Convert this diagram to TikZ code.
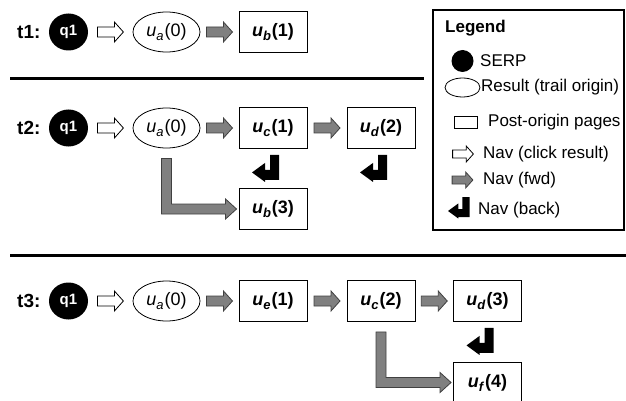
\documentclass[tikz,border=0pt]{standalone}
\usepackage{fontspec}
\setmainfont{Liberation Sans}
\usetikzlibrary{shapes.geometric,calc}
\tikzset{
 serp/.style={ellipse, fill=black, minimum width=39pt, minimum height=37pt, inner sep=0pt, text=white, font=\fontsize{15}{15}\selectfont\bfseries},
 origin/.style={ellipse, draw=black, line width=0.8pt, minimum width=67pt, minimum height=40pt, inner sep=0pt, font=\fontsize{18}{18}\selectfont},
 page/.style={rectangle, draw=black, line width=0.9pt, minimum width=68pt, minimum height=41pt, inner sep=0pt, font=\fontsize{18}{18}\selectfont\bfseries},
 rowlab/.style={anchor=west, inner sep=0pt, font=\fontsize{19}{19}\selectfont\bfseries},
 legtext/.style={anchor=west, inner sep=0pt, font=\fontsize{17}{17}\selectfont},
 clickarr/.style={draw=black, fill=white, line width=0.8pt, line join=miter},
 fwdarr/.style={draw=black!75, fill=black!50, line width=0.8pt, line join=miter},
 backarr/.style={fill=black},
 sepline/.style={line width=3pt},
}
\newcommand{\usub}[2]{\textit{u}\raisebox{-0.22em}{\fontsize{13}{13}\selectfont\textit{#1}}\kern1pt(#2)}
\newcommand{\arrshape}{(-13,-5) -- (4,-5) -- (4,-10) -- (13,0) -- (4,10) -- (4,5) -- (-13,5) -- cycle}
\newcommand{\harrow}[3]{\draw[#1, shift={($(#2.east)!0.5!(#3.west)$)}] \arrshape;}
\newcommand{\backshape}{(18,0) -- (27,0) -- (27,25) -- (13,25) -- (13,27) -- (0,17.5) -- (13,8) -- (13,15) -- (18,15) -- cycle}
\newcommand{\backarrow}[1]{\fill[backarr, shift={($(#1.south)+(-21,6)$)}] \backshape;}
\newcommand{\larrow}[2]{%
 \coordinate (ls) at ($(#1.south)+(0,10)$);
 \coordinate (lt) at ($(#2.west)+(-2,0)$);
 \coordinate (lc) at (ls |- lt);
 \draw[fwdarr] ($(ls)+(-5,0)$) -- ($(ls)+(5,0)$) -- ($(lc)+(5,-5)$) -- ($(lt)+(-11,-5)$) -- ($(lt)+(-11,-10)$) -- (lt) -- ($(lt)+(-11,10)$) -- ($(lt)+(-11,5)$) -- ($(lc)+(-5,5)$) -- cycle;}
\begin{document}
\begin{tikzpicture}[x=1pt,y=-1pt]
\useasboundingbox (0,0) rectangle (626,401);
% row t1
\node[rowlab] (t1) at (17,32) {t1:};
\node[serp] (q1a) at (68.5,32) {q1};
\node[origin] (ua1) at (166.5,32) {\usub{a}{0}};
\node[page] (ub1) at (273,32) {\usub{b}{1}};
\harrow{clickarr}{q1a}{ua1}
\harrow{fwdarr}{ua1}{ub1}
\draw[sepline] (10,79) coordinate (l1a) -- (424,79) coordinate (l1b);
% row t2
\node[rowlab] (t2) at (17,128) {t2:};
\node[serp] (q1b) at (68.5,128) {q1};
\node[origin] (ua2) at (166.5,128) {\usub{a}{0}};
\node[page] (uc2) at (273,128) {\usub{c}{1}};
\node[page] (ud2) at (381,128) {\usub{d}{2}};
\node[page] (ub2) at (273,209) {\usub{b}{3}};
\harrow{clickarr}{q1b}{ua2}
\harrow{fwdarr}{ua2}{uc2}
\harrow{fwdarr}{uc2}{ud2}
\backarrow{uc2}
\backarrow{ud2}
\larrow{ua2}{ub2}
\draw[sepline] (10,255) coordinate (l2a) -- (626,255) coordinate (l2b);
% row t3
\node[rowlab] (t3) at (17,301) {t3:};
\node[serp] (q1c) at (68.5,301) {q1};
\node[origin] (ua3) at (166.5,301) {\usub{a}{0}};
\node[page] (ue3) at (273,301) {\usub{e}{1}};
\node[page] (uc3) at (381,301) {\usub{c}{2}};
\node[page] (ud3) at (487.5,301) {\usub{d}{3}};
\node[page] (uf3) at (487.5,382.5) {\usub{f}{4}};
\harrow{clickarr}{q1c}{ua3}
\harrow{fwdarr}{ua3}{ue3}
\harrow{fwdarr}{ue3}{uc3}
\harrow{fwdarr}{uc3}{ud3}
\backarrow{ud3}
\larrow{uc3}{uf3}
% legend
\node[draw, line width=2.2pt, minimum width=191pt, minimum height=220pt, inner sep=0pt] (legend) at (528.5,120) {};
\node[legtext, font=\fontsize{17}{17}\selectfont\bfseries] (legt) at (445,28) {Legend};
\node[serp, minimum width=22pt, minimum height=22pt] (lserp) at (462.5,61) {};
\node[legtext] (lserpt) at (480,61) {SERP};
\node[origin, minimum width=35pt, minimum height=19pt] (lorig) at (462.5,87.5) {};
\node[legtext] (lorigt) at (481,87) {Result (trail origin)};
\node[page, minimum width=23pt, minimum height=12pt] (lpage) at (465.5,122.5) {};
\node[legtext] (lpaget) at (488,122) {Post-origin pages};
\draw[clickarr, shift={(463,154)}, scale=0.8] \arrshape;
\node[legtext] (lclickt) at (483,154) {Nav (click result)};
\draw[fwdarr, shift={(462.5,180)}, scale=0.8] \arrshape;
\node[legtext] (lfwdt) at (483,180) {Nav (fwd)};
\fill[backarr, shift={(448,197)}, scale=0.8] \backshape;
\node[legtext] (lbackt) at (478,210) {Nav (back)};
\end{tikzpicture}
\end{document}
